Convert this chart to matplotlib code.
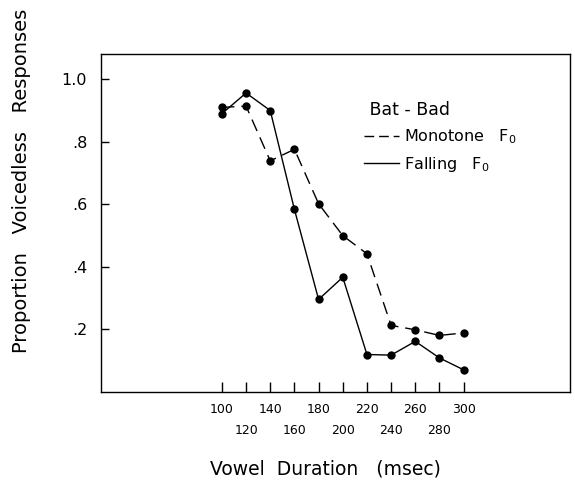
import matplotlib
matplotlib.use("Agg")
import matplotlib.pyplot as plt
from matplotlib.lines import Line2D

# vowel duration (msec)
durations = [100, 120, 140, 160, 180, 200, 220, 240, 260, 280, 300]
monotone = [0.91, 0.914, 0.739, 0.776, 0.602, 0.50, 0.442, 0.213, 0.199, 0.181, 0.189]
falling = [0.89, 0.956, 0.90, 0.584, 0.296, 0.367, 0.12, 0.118, 0.162, 0.109, 0.071]

yticks = [0.2, 0.4, 0.6, 0.8, 1.0]
ytick_labels = [".2", ".4", ".6", ".8", "1.0"]

plt.rcParams['font.family'] = ['DejaVu Sans']

fig = plt.figure(figsize=(5.75, 4.84), dpi=100)
ax = fig.add_axes([0.1757, 0.190, 0.8156, 0.698])

ax.plot(durations, monotone, color='black', lw=1.0, dashes=(9, 5),
        marker='o', markersize=6, markeredgewidth=0)
ax.plot(durations, falling, color='black', lw=1.0,
        marker='o', markersize=6, markeredgewidth=0)

ax.set_xlim(0, 388)
ax.set_ylim(0, 1.08)

# labels alternate between two rows
upper = durations[0::2]
lower = durations[1::2]
ax.set_xticks(upper, [str(d) for d in upper], fontsize=9)
ax.set_xticks(lower, [str(d) for d in lower], minor=True, fontsize=9)
ax.set_yticks(yticks)
ax.set_yticklabels(ytick_labels, fontsize=11.5)
ax.tick_params(axis='x', which='both', direction='in', length=7, width=1)
ax.tick_params(axis='x', which='major', pad=8)
ax.tick_params(axis='x', which='minor', pad=23)
ax.tick_params(axis='y', direction='in', length=6, width=1, pad=10)

for s in ax.spines.values():
    s.set_linewidth(1.0)

ax.set_xlabel("Vowel  Duration   (msec)", fontsize=13.5)
ax.xaxis.set_label_coords(0.478, -0.2)
ax.set_ylabel("Proportion   Voicedless   Responses", fontsize=14)
ax.yaxis.set_label_coords(-0.15, 0.625)

handles = [Line2D([], [], color='black', lw=1.0, dashes=(7, 3.5)),
           Line2D([], [], color='black', lw=1.0)]
leg = ax.legend(handles, [r"Monotone   F$_\mathregular{0}$", r"Falling   F$_\mathregular{0}$"],
                title=" Bat - Bad", frameon=False, fontsize=11.5,
                title_fontsize=12.5, handlelength=2.2, handletextpad=0.3,
                labelspacing=0.55, loc='upper left', bbox_to_anchor=(0.53, 0.905))
leg._legend_box.align = "left"

fig.savefig("out.png", dpi=100)
